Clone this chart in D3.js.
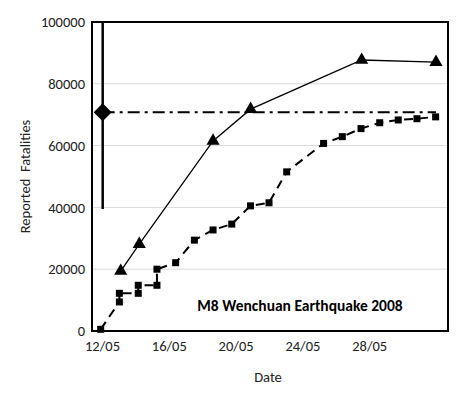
<!DOCTYPE html>
<html>
<head>
<style>
  body { margin: 0; background: #fff; }
  text { font-family: Calibri, Carlito, "Open Sans", sans-serif; }
</style>
</head>
<body>
<svg id="chart" width="474" height="401"></svg>
<script src="https://d3js.org/d3.v7.min.js"></script>
<script>
// day of May 2008 (positions)
const triDays = [13.12, 14.23, 18.65, 20.9, 27.55, 32.0]
const triVals = [19400, 28100, 61500, 71800, 87700, 87000]
const sqDays = [11.92, 13.04, 13.04, 14.17, 14.17, 15.29, 15.29, 16.41, 17.53, 18.65, 19.77,
  20.89, 22.0, 23.06, 25.27, 26.39, 27.51, 28.63, 29.74, 30.86, 31.98]
const sqVals = [550, 9400, 12200, 12200, 14800, 14800, 20000, 22100, 29400, 32700, 34600,
  40500, 41500, 51500, 60700, 62900, 65500, 67400, 68300, 68700, 69300]
const estDay = 12.04, estVal = 70800, estLow = 39500, estHigh = 100000, estEnd = 32.0
const xTicks = [12, 16, 20, 24, 28]
const yTicks = [0, 20000, 40000, 60000, 80000, 100000]

const svg = d3.select('#chart')
const L = 92, R = 448, T = 22, B = 331
const x = d3.scaleLinear().domain([11.4, 32.72]).range([L, R])
const y = d3.scaleLinear().domain([0, 100000]).range([B, T])

svg.append('g').selectAll('line').data(yTicks.slice(1, -1)).join('line')
  .attr('x1', L).attr('x2', R).attr('y1', d => y(d)).attr('y2', d => y(d))
  .attr('stroke', '#d9d9d9')

svg.append('g').attr('transform', `translate(${L},0)`)
  .call(d3.axisLeft(y).tickValues(yTicks).tickSize(0).tickPadding(7).tickFormat(d3.format('d')))
  .call(g => g.select('.domain').remove())
  .selectAll('text').attr('font-size', 14.5).attr('fill', '#222')

svg.append('g').attr('transform', `translate(0,${B})`)
  .call(d3.axisBottom(x).tickValues(xTicks).tickSize(0).tickPadding(10)
    .tickFormat(d => String(d).padStart(2, '0') + '/05'))
  .call(g => g.select('.domain').remove())
  .selectAll('text').attr('font-size', 14.5).attr('fill', '#222')

// estimate with range
svg.append('line').attr('x1', x(estDay)).attr('x2', x(estDay))
  .attr('y1', y(estLow)).attr('y2', y(estHigh)).attr('stroke', '#000').attr('stroke-width', 2.5)
svg.append('line').attr('x1', x(estDay)).attr('x2', x(estEnd))
  .attr('y1', y(estVal)).attr('y2', y(estVal)).attr('stroke', '#000').attr('stroke-width', 2)
  .attr('stroke-dasharray', '12,5,3,5')
svg.append('path').attr('d', 'M0,-9L9,0L0,9L-9,0Z')
  .attr('transform', `translate(${x(estDay)},${y(estVal)})`).attr('fill', '#000')

// triangles
const tri = triDays.map((d, i) => [d, triVals[i]])
svg.append('path').datum(tri).attr('fill', 'none').attr('stroke', '#000').attr('stroke-width', 1.3)
  .attr('d', d3.line().x(d => x(d[0])).y(d => y(d[1])))
svg.append('g').selectAll('path').data(tri).join('path')
  .attr('d', d3.symbol(d3.symbolTriangle, 75)())
  .attr('transform', d => `translate(${x(d[0])},${y(d[1])})`).attr('fill', '#000')

// squares
const sq = sqDays.map((d, i) => [d, sqVals[i]])
svg.append('path').datum(sq).attr('fill', 'none').attr('stroke', '#000').attr('stroke-width', 2)
  .attr('stroke-dasharray', '9,6')
  .attr('d', d3.line().x(d => x(d[0])).y(d => y(d[1])))
svg.append('g').selectAll('rect').data(sq).join('rect')
  .attr('x', d => x(d[0]) - 3.5).attr('y', d => y(d[1]) - 3.5)
  .attr('width', 7).attr('height', 7).attr('fill', '#000')

svg.append('rect').attr('x', L).attr('y', T).attr('width', R - L).attr('height', B - T)
  .attr('fill', 'none').attr('stroke', '#000').attr('stroke-width', 2)

svg.append('text').attr('x', 300).attr('y', 311).attr('text-anchor', 'middle')
  .attr('font-size', 15.5).attr('font-weight', 'bold').text('M8 Wenchuan Earthquake 2008')
svg.append('text').attr('x', 268).attr('y', 382).attr('text-anchor', 'middle')
  .attr('font-size', 14.5).attr('fill', '#222').text('Date')
svg.append('text').attr('transform', `translate(30,${(T + B) / 2}) rotate(-90)`)
  .attr('text-anchor', 'middle').attr('font-size', 14.5).attr('fill', '#222')
  .attr('xml:space', 'preserve').text('Reported  Fatalities')
</script>
</body>
</html>
